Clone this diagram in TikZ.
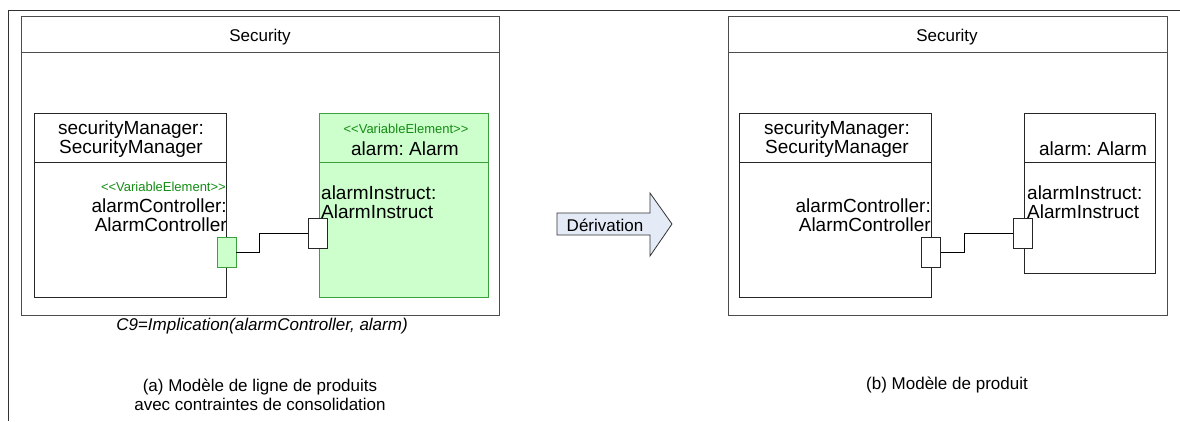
\documentclass[tikz,border=0pt]{standalone}
\usepackage{fontspec}
\setmainfont{Liberation Sans}
\usetikzlibrary{positioning}

\definecolor{varfill}{RGB}{204,255,204}
\definecolor{varline}{RGB}{60,160,60}
\definecolor{stereo}{RGB}{20,140,20}
\definecolor{arrowfill}{RGB}{228,234,246}

\newcommand\titlefont{\fontsize{17}{19}\selectfont}
\newcommand\partfont{\fontsize{19}{19}\selectfont}
\newcommand\stereofont{\fontsize{13}{14}\selectfont}
\newcommand\varelem{{<}{<}VariableElement{>}{>}}

\frenchspacing
\begin{document}
\begin{tikzpicture}[x=1pt,y=-1pt,
		pkg/.style={draw=black!70,line width=0.9pt,inner sep=0pt},
		part/.style={draw=black!85,line width=0.8pt,fill=white,inner sep=0pt},
		varpart/.style={part,draw=varline,fill=varfill},
		port/.style={part,minimum width=19,minimum height=30},
		varport/.style={port,draw=varline,fill=varfill},
		wire/.style={draw=black,line width=0.8pt},
		txt/.style={inner sep=0pt,font=\partfont,align=left},
		st/.style={inner sep=0pt,font=\stereofont,text=stereo},
		captxt/.style={inner sep=0pt,font=\titlefont,align=center}]
		\useasboundingbox (0,0) rectangle (1180,421);
		% frame
		\draw[black!80,line width=1pt] (8,421) -- (8,10) -- (1180,10);
		
		% LEFT: product line model
		\begin{scope}
			\node[pkg,minimum width=478,minimum height=36] (pkgLt) at (260,34) {};
			\node[captxt] (titleL) at (260,37) {Security};
			\node[pkg,minimum width=478,minimum height=263] (pkgLb) at (260,183.5) {};
			% securityManager
			\node[part,minimum width=192,minimum height=49] (smgrLh) at (130,137.5) {};
			\node[part,minimum width=192,minimum height=135] (smgrLb) at (130,229.5) {};
			\node[txt,align=center] (smgrLt) at (131,139) {securityManager:\\SecurityManager};
			\node[st,anchor=east] (ctrlLs) at (226,187) {\varelem};
			\node[txt,align=right,anchor=east] (ctrlLt) at (227,215.5) {alarmController:\\AlarmController};
			% alarm
			\node[varpart,minimum width=169,minimum height=49] (alarmLh) at (403.5,137.5) {};
			\node[varpart,minimum width=169,minimum height=135] (alarmLb) at (403.5,229.5) {};
			\node[st] (alarmLs) at (406,129) {\varelem};
			\node[txt] (alarmLt) at (405,149) {alarm: Alarm};
			\node[txt,anchor=west] (instrLt) at (321,202.5) {alarmInstruct:\\AlarmInstruct};
			% ports
			\node[varport] (pCtrlL) at (226.5,252) {};
			\node[port] (pInstrL) at (317.5,233) {};
			\draw[wire] (pCtrlL.east) -- ++(23,0) |- (pInstrL.west);
			\node[captxt,font=\titlefont\itshape] (consL) at (262,326) {C9=Implication(alarmController, alarm)};
			\node[captxt] (capL) at (260,395) {(a) Modèle de ligne de produits\\avec contraintes de consolidation};
		\end{scope}
		
		% derivation arrow
		\draw[black!80,line width=0.8pt,fill=arrowfill]
			(557,213) -- (650,213) -- (650,193) -- (672,224) -- (650,256) -- (650,235) -- (557,235) -- cycle;
		\node[captxt] (deriv) at (605,225) {Dérivation};
		
		% RIGHT: product model
		\begin{scope}
			\node[pkg,minimum width=439,minimum height=36] (pkgRt) at (947.5,34) {};
			\node[captxt] (titleR) at (947,37) {Security};
			\node[pkg,minimum width=439,minimum height=263] (pkgRb) at (947.5,183.5) {};
			% securityManager
			\node[part,minimum width=192,minimum height=49] (smgrRh) at (835,137.5) {};
			\node[part,minimum width=192,minimum height=135] (smgrRb) at (835,229.5) {};
			\node[txt,align=center] (smgrRt) at (837,139) {securityManager:\\SecurityManager};
			\node[txt,align=right,anchor=east] (ctrlRt) at (931,215.5) {alarmController:\\AlarmController};
			% alarm
			\node[part,minimum width=131,minimum height=49] (alarmRh) at (1089.5,137.5) {};
			\node[part,minimum width=131,minimum height=111] (alarmRb) at (1089.5,217.5) {};
			\node[txt] (alarmRt) at (1093,149) {alarm: Alarm};
			\node[txt,anchor=west] (instrRt) at (1027,202.5) {alarmInstruct:\\AlarmInstruct};
			% ports
			\node[port] (pCtrlR) at (931,252) {};
			\node[port] (pInstrR) at (1022.5,233) {};
			\draw[wire] (pCtrlR.east) -- ++(23,0) |- (pInstrR.west);
			\node[captxt] (capR) at (947,385) {(b) Modèle de produit};
		\end{scope}
	\end{tikzpicture}
\end{document}
